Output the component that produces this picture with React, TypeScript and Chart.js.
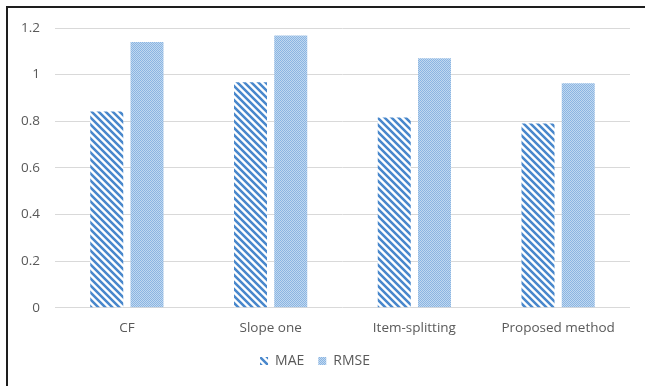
import React, { useEffect, useRef } from "react";
import { Chart, registerables } from "chart.js";

Chart.register(...registerables);

const categories = ["CF", "Slope one", "Item-splitting", "Proposed method"];
const maeValues = [0.842, 0.967, 0.816, 0.79];
const rmseValues = [1.14, 1.168, 1.07, 0.963];
const yTickLabels = ["0", "0.2", "0.4", "0.6", "0.8", "1", "1.2"];
const seriesNames = ["MAE", "RMSE"];

function makeStripePattern(): CanvasPattern | string {
  const s = 7;
  const c = document.createElement("canvas");
  c.width = s;
  c.height = s;
  const ctx = c.getContext("2d");
  if (!ctx) return "#5B9BD5";
  const img = ctx.createImageData(s, s);
  for (let y = 0; y < s; y++) {
    for (let x = 0; x < s; x++) {
      const d = (((x - y) % s) + s) % s;
      const i = (y * s + x) * 4;
      if (d < 3) {
        img.data[i] = 0x4a;
        img.data[i + 1] = 0x88;
        img.data[i + 2] = 0xcc;
      } else if (d === 3 || d === 6) {
        img.data[i] = 0xc8;
        img.data[i + 1] = 0xdc;
        img.data[i + 2] = 0xf0;
      } else {
        img.data[i] = 255;
        img.data[i + 1] = 255;
        img.data[i + 2] = 255;
      }
      img.data[i + 3] = 255;
    }
  }
  ctx.putImageData(img, 0, 0);
  return ctx.createPattern(c, "repeat") || "#5B9BD5";
}

function makeDotPattern(): CanvasPattern | string {
  const c = document.createElement("canvas");
  c.width = 2;
  c.height = 2;
  const ctx = c.getContext("2d");
  if (!ctx) return "#A8C8EA";
  ctx.fillStyle = "#C0D8F0";
  ctx.fillRect(0, 0, 2, 2);
  ctx.fillStyle = "#8BB5E2";
  ctx.fillRect(0, 0, 1, 1);
  ctx.fillRect(1, 1, 1, 1);
  return ctx.createPattern(c, "repeat") || "#A8C8EA";
}

export default function App() {
  const ref = useRef<HTMLCanvasElement | null>(null);

  useEffect(() => {
    document.body.style.overflow = "hidden";
    const canvas = ref.current;
    if (!canvas) return;
    const stripe = makeStripePattern();
    const dots = makeDotPattern();
    const font = "'Open Sans', 'Liberation Sans', sans-serif";
    const chart = new Chart(canvas, {
      type: "bar",
      data: {
        labels: categories,
        datasets: [
          {
            label: seriesNames[0],
            data: maeValues,
            backgroundColor: stripe as any,
            borderWidth: 0,
            categoryPercentage: 0.56,
            barPercentage: 0.82,
          },
          {
            label: seriesNames[1],
            data: rmseValues,
            backgroundColor: dots as any,
            borderWidth: 0,
            categoryPercentage: 0.56,
            barPercentage: 0.82,
          },
        ],
      },
      options: {
        responsive: false,
        animation: false,
        devicePixelRatio: 1,
        layout: { padding: { left: 0, right: 15, top: 28, bottom: 8 } },
        plugins: {
          tooltip: { enabled: false },
          legend: {
            position: "bottom",
            labels: {
              boxWidth: 8,
              boxHeight: 8,
              padding: 14,
              color: "#595959",
              font: { family: font, size: 14 },
            },
          },
        },
        scales: {
          x: {
            grid: { display: false },
            border: { display: false },
            ticks: {
              color: "#595959",
              padding: 4,
              font: { family: font, size: 13.5 },
              maxRotation: 0,
            },
          },
          y: {
            min: 0,
            max: 1.2,
            afterFit: (scale: any) => {
              scale.width = 55;
            },
            grid: { color: "#D9D9D9", drawTicks: false, lineWidth: 1 },
            border: { display: false },
            ticks: {
              stepSize: 0.2,
              padding: 15,
              color: "#595959",
              font: { family: font, size: 13.5 },
              callback: (_v: any, i: number) => yTickLabels[i],
            },
          },
        },
      },
    });
    return () => chart.destroy();
  }, []);

  return (
    <div>
      <div
        style={{
          position: "fixed",
          left: 6,
          top: 6,
          right: 0,
          bottom: 0,
          borderLeft: "2px solid #1E1E1E",
          borderTop: "2px solid #1E1E1E",
        }}
      />
      <canvas
        ref={ref}
        width={645}
        height={386}
        style={{ position: "fixed", left: 0, top: 0, width: 645, height: 386 }}
      />
    </div>
  );
}
